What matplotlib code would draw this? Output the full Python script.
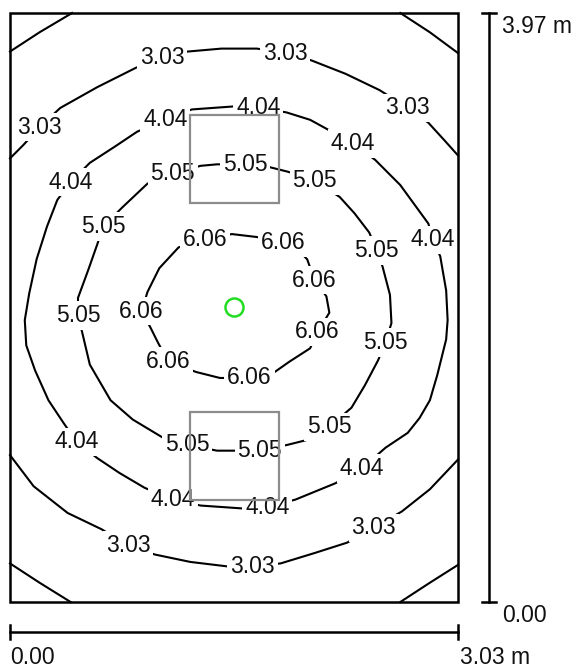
import matplotlib
matplotlib.use('Agg')
import matplotlib.pyplot as plt
from matplotlib.patches import Rectangle

plt.rcParams['font.family'] = ['Liberation Sans', 'DejaVu Sans']

# room size in metres
room_w = 3.03
room_h = 3.97

# isolines (x, y in metres)
line_303_top = [(0.00, 2.99), (0.09, 3.08), (0.20, 3.20), (0.34, 3.33), (0.59, 3.47), (0.85, 3.60),
                (1.03, 3.67), (1.20, 3.71), (1.43, 3.73), (1.67, 3.73), (1.86, 3.70), (2.04, 3.65),
                (2.27, 3.56), (2.50, 3.45), (2.69, 3.33), (2.83, 3.23), (2.94, 3.11), (3.03, 3.01)]
line_303_bot = [(0.00, 0.99), (0.16, 0.78), (0.39, 0.60), (0.62, 0.49), (0.80, 0.38), (0.98, 0.32),
                (1.22, 0.27), (1.47, 0.24), (1.64, 0.24), (1.83, 0.26), (2.06, 0.33), (2.28, 0.40),
                (2.46, 0.50), (2.65, 0.61), (2.84, 0.76), (3.03, 0.96)]
line_404 = [(1.05, 3.25), (1.23, 3.32), (1.51, 3.34), (1.68, 3.33), (1.87, 3.30), (2.03, 3.25),
            (2.14, 3.19), (2.32, 3.09), (2.47, 2.98), (2.64, 2.81), (2.83, 2.55), (2.86, 2.44),
            (2.91, 2.33), (2.95, 2.10), (2.96, 1.90), (2.95, 1.77), (2.89, 1.53), (2.84, 1.36),
            (2.77, 1.24), (2.69, 1.14), (2.54, 1.04), (2.38, 0.90), (2.20, 0.80), (1.93, 0.69),
            (1.74, 0.64), (1.58, 0.63), (1.29, 0.65), (1.10, 0.69), (0.91, 0.77), (0.74, 0.87),
            (0.59, 0.97), (0.45, 1.08), (0.36, 1.21), (0.26, 1.36), (0.17, 1.56), (0.11, 1.73),
            (0.10, 1.90), (0.13, 2.08), (0.18, 2.31), (0.25, 2.53), (0.32, 2.71), (0.41, 2.83),
            (0.54, 2.96), (0.71, 3.07), (0.86, 3.17), (1.05, 3.25)]
line_505 = [(1.10, 2.89), (1.29, 2.94), (1.40, 2.95), (1.59, 2.95), (1.76, 2.93), (1.88, 2.90),
            (2.06, 2.84), (2.23, 2.73), (2.33, 2.62), (2.43, 2.49), (2.48, 2.37), (2.52, 2.26),
            (2.57, 2.07), (2.58, 1.88), (2.54, 1.75), (2.49, 1.63), (2.40, 1.46), (2.31, 1.31),
            (2.16, 1.18), (2.00, 1.09), (1.88, 1.06), (1.69, 1.02), (1.51, 1.02), (1.40, 1.02),
            (1.20, 1.06), (1.03, 1.11), (0.83, 1.23), (0.68, 1.36), (0.54, 1.60), (0.49, 1.81),
            (0.46, 1.93), (0.46, 2.05), (0.53, 2.24), (0.59, 2.41), (0.63, 2.53), (0.76, 2.66),
            (0.93, 2.82), (1.10, 2.89)]
line_606 = [(1.32, 2.44), (1.50, 2.48), (1.67, 2.46), (1.85, 2.42), (1.96, 2.36), (2.01, 2.31),
            (2.06, 2.17), (2.14, 2.06), (2.16, 1.95), (2.08, 1.82), (2.03, 1.71), (1.89, 1.62),
            (1.79, 1.55), (1.62, 1.51), (1.42, 1.51), (1.26, 1.55), (1.07, 1.62), (1.00, 1.75),
            (0.95, 1.85), (0.89, 1.96), (0.93, 2.09), (1.01, 2.25), (1.14, 2.39), (1.32, 2.44)]
# unlabelled corner isolines
corner_lines = [[(0.00, 3.71), (0.20, 3.84), (0.42, 3.97)],
                [(2.64, 3.97), (2.84, 3.84), (3.03, 3.70)],
                [(0.00, 0.26), (0.20, 0.13), (0.41, 0.00)],
                [(2.64, 0.00), (2.84, 0.13), (3.03, 0.25)]]

# label positions per level
labels_303 = [(0.20, 3.20), (1.03, 3.67), (1.86, 3.70), (2.69, 3.33), (0.80, 0.38), (1.64, 0.24), (2.46, 0.50)]
labels_404 = [(1.05, 3.25), (1.68, 3.33), (2.32, 3.09), (2.86, 2.44), (2.38, 0.90), (1.74, 0.64),
              (1.10, 0.69), (0.45, 1.08), (0.41, 2.83)]
labels_505 = [(1.10, 2.89), (1.59, 2.95), (2.06, 2.84), (2.48, 2.37), (2.54, 1.75), (2.16, 1.18),
              (1.69, 1.02), (1.20, 1.06), (0.46, 1.93), (0.63, 2.53)]
labels_606 = [(1.32, 2.44), (1.85, 2.42), (2.06, 2.17), (2.08, 1.82), (1.62, 1.51), (1.07, 1.62), (0.89, 1.96)]

# luminaires (x0, y0, w, h) and the calculation point
lum_boxes = [(1.22, 2.69, 0.60, 0.59), (1.22, 0.69, 0.60, 0.59)]
point_xy = (1.515, 1.985)

fs = 16.5

fig = plt.figure(figsize=(5.77, 6.69), dpi=100)
ax = fig.add_axes([0, 0, 1, 1])
ax.set_xlim(-0.0676, 3.835)
ax.set_ylim(-0.4516, 4.0576)
ax.axis('off')

for pts in [line_303_top, line_303_bot, line_404, line_505, line_606] + corner_lines:
    xs = [p[0] for p in pts]
    ys = [p[1] for p in pts]
    ax.plot(xs, ys, color='black', lw=1.5, zorder=2, solid_joinstyle='round')

for txt, labs in [('3.03', labels_303), ('4.04', labels_404), ('5.05', labels_505), ('6.06', labels_606)]:
    for x, y in labs:
        ax.text(x, y, txt, fontsize=fs, ha='center', va='center', color='#111111', zorder=3,
                bbox=dict(facecolor='white', edgecolor='none', pad=2.0))

for x0, y0, w, h in lum_boxes:
    ax.add_patch(Rectangle((x0, y0), w, h, fill=False, edgecolor='#8c8c8c', lw=1.6, zorder=4))

ax.plot(point_xy[0], point_xy[1], marker='o', ms=13, mfc='none', mec='#22dd22', mew=1.8, zorder=5)

# room outline
ax.add_patch(Rectangle((0, 0), room_w, room_h, fill=False, edgecolor='black', lw=1.8, zorder=6))

# scale bars
sx = 3.24
ax.plot([sx, sx], [0, room_h], color='black', lw=1.8)
ax.plot([sx - 0.05, sx + 0.05], [0, 0], color='black', lw=1.8)
ax.plot([sx - 0.05, sx + 0.05], [room_h, room_h], color='black', lw=1.8)
ax.text(3.33, 3.88, '3.97 m', fontsize=fs, ha='left', va='center', color='#111111')
ax.text(3.33, -0.094, '0.00', fontsize=fs, ha='left', va='center', color='#111111')

sy = -0.202
ax.plot([0, room_w], [sy, sy], color='black', lw=1.8)
ax.plot([0, 0], [sy - 0.05, sy + 0.05], color='black', lw=1.8)
ax.plot([room_w, room_w], [sy - 0.05, sy + 0.05], color='black', lw=1.8)
ax.text(0.0, -0.377, '0.00', fontsize=fs, ha='left', va='center', color='#111111')
ax.text(3.044, -0.377, '3.03 m', fontsize=fs, ha='left', va='center', color='#111111')

fig.savefig('out.png', dpi=100)
